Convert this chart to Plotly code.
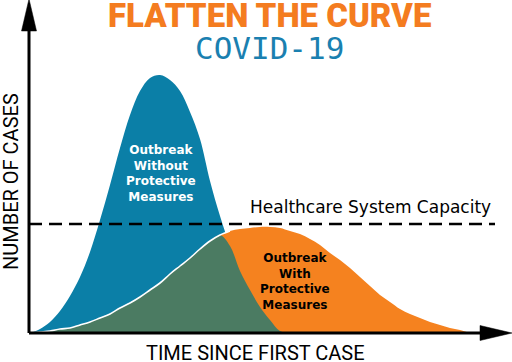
import numpy as np
import plotly.graph_objects as go

# ---- data (time since first case, number of cases; chart units) ----
time = [1, 11, 21, 31, 41, 51, 61, 71, 81, 91, 101, 111, 121, 131, 141,
        151, 161, 171, 181, 191, 201, 211, 221, 231, 241, 251, 261, 271,
        281, 291, 301, 311, 321, 331, 341, 351, 361, 371, 381, 391, 401,
        411, 421, 431, 441]
without_measures = [0, 4, 11, 22, 37, 56, 81, 113, 148, 185, 218, 242, 255,
                    258, 253, 242, 221, 194, 152, 117, 87, 62, 43, 26, 13, 2,
                    0, 0, 0, 0, 0, 0, 0, 0, 0, 0, 0, 0, 0, 0, 0, 0, 0, 0, 0]
with_measures = [0, 1, 2, 4, 5, 8, 11, 15, 19, 25, 30, 36, 43, 50, 59, 67,
                 75, 84, 92, 98, 102, 104, 105, 106, 106, 105, 102, 99, 94,
                 88, 80, 73, 65, 56, 47, 38, 31, 24, 19, 15, 11, 8, 5, 3, 0]
capacity = 109

title = "FLATTEN THE CURVE"
subtitle = "COVID-19"
label_without = ["Outbreak", "Without", "Protective", "Measures"]
label_with = ["Outbreak", "With", "Protective", "Measures"]
capacity_label = "Healthcare System Capacity"
x_label = "TIME SINCE FIRST CASE"
y_label = "NUMBER OF CASES"

BLUE = "#0B7FA7"
ORANGE = "#F5821F"
GREEN = "#4B7B62"

t = np.array(time)
b = np.array(without_measures, dtype=float)
o = np.array(with_measures, dtype=float)
overlap = np.minimum(b, o)
# white edge of the flattened curve where it lies inside the tall curve
mask = b >= o
mask_ext = mask | np.concatenate([[False], mask[:-1]])
white_edge = [v if m else None for v, m in zip(o, mask_ext)]

fig = go.Figure()
fig.add_trace(go.Scatter(x=t, y=b, mode="lines", line=dict(color=BLUE, width=0, shape="spline"),
                         fill="tozeroy", fillcolor=BLUE, hoverinfo="skip"))
fig.add_trace(go.Scatter(x=t, y=o, mode="lines", line=dict(color=ORANGE, width=0, shape="spline"),
                         fill="tozeroy", fillcolor=ORANGE, hoverinfo="skip"))
fig.add_trace(go.Scatter(x=t, y=overlap, mode="lines", line=dict(color=GREEN, width=0, shape="spline"),
                         fill="tozeroy", fillcolor=GREEN, hoverinfo="skip"))
fig.add_trace(go.Scatter(x=t, y=white_edge, mode="lines",
                         line=dict(color="white", width=1.6, shape="spline"), hoverinfo="skip"))

# capacity line
fig.add_shape(type="line", x0=0, x1=466, y0=capacity, y1=capacity,
              line=dict(color="black", width=2.5, dash="13px,7px"), layer="above")
# axes with arrowheads
fig.add_shape(type="line", x0=0, x1=0, y0=0, y1=305, line=dict(color="black", width=3), layer="above")
fig.add_shape(type="line", x0=0, x1=455, y0=0, y1=0, line=dict(color="black", width=3), layer="above")
fig.add_shape(type="path", path="M -7.5 302 L 0 334 L 7.5 302 Z",
              fillcolor="black", line=dict(color="black", width=0.5), layer="above")
fig.add_shape(type="path", path="M 451 7.5 L 483 0 L 451 -7.5 Z",
              fillcolor="black", line=dict(color="black", width=0.5), layer="above")

heading = ("<span style='font-size:33px;font-weight:900;color:#F47C20'>" + title + "</span><br>"
           "<span style='font-family:\"DejaVu Sans Mono\";font-size:31px;color:#1A80B0'>"
           + subtitle + "</span>")

ann = []
ann.append(dict(x=240, y=302, text=heading, showarrow=False, xanchor="center", yanchor="middle",
                font=dict(family="Roboto", size=24.5, color="#F47C20")))
ann.append(dict(x=132, y=159.5, text="<br>".join(label_without), showarrow=False,
                xanchor="center", yanchor="middle", align="center",
                font=dict(family="DejaVu Sans", size=12, color="white", weight="bold")))
ann.append(dict(x=266, y=51.5, text="<br>".join(label_with), showarrow=False,
                xanchor="center", yanchor="middle", align="center",
                font=dict(family="DejaVu Sans", size=12, color="black", weight="bold")))
ann.append(dict(x=341, y=126, text=capacity_label, showarrow=False, xanchor="center", yanchor="middle",
                font=dict(family="DejaVu Sans", size=17, color="black")))
ann.append(dict(x=226, y=-20, text=x_label, showarrow=False, xanchor="center", yanchor="middle",
                font=dict(family="Roboto", size=20, color="black")))
ann.append(dict(x=-18, y=151, text=y_label, showarrow=False, xanchor="center", yanchor="middle",
                textangle=-90, font=dict(family="Roboto", size=20, color="black")))

fig.update_layout(
    width=512, height=362, margin=dict(l=0, r=0, t=0, b=0),
    paper_bgcolor="white", plot_bgcolor="white", showlegend=False,
    xaxis=dict(range=[-29, 483], visible=False, fixedrange=True),
    yaxis=dict(range=[-29, 333], visible=False, fixedrange=True),
    annotations=ann,
)
fig.write_html("out.html", config={"displayModeBar": False},
               post_script="document.body.style.margin='0';document.body.style.overflow='hidden';")
